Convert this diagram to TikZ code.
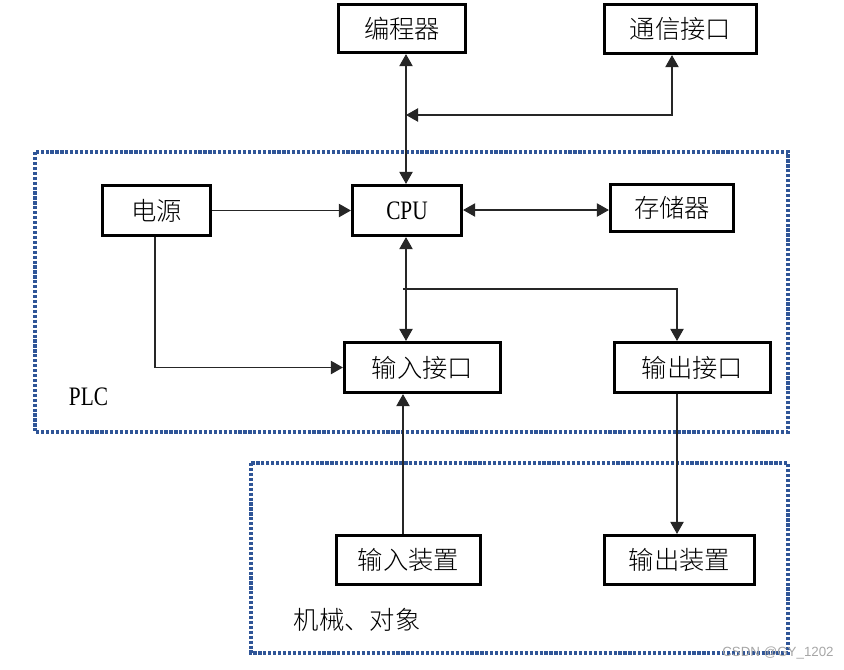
\documentclass[tikz,border=0pt]{standalone}
\usepackage{fontspec}
\newfontfamily\cjk{Noto Sans CJK SC Light}
\newfontfamily\latn[FakeStretch=0.8]{Liberation Serif}
\newfontfamily\wmfont{Liberation Sans}
\usetikzlibrary{arrows.meta}
\definecolor{dotblue}{HTML}{2F5597}
\tikzset{
  box/.style={draw=black, line width=2.4pt, inner sep=0pt, fill=white,
    font=\cjk\fontsize{19}{22}\selectfont},
  conn/.style={line width=0.8pt, draw=black!85},
  dotbox/.style={draw=dotblue, line width=2.5pt, dash pattern=on 2.4pt off 1.3pt},
  >={Triangle[length=9pt,width=10pt]}
}
\begin{document}
\begin{tikzpicture}[x=0.75pt,y=-0.75pt]
\useasboundingbox (0,0) rectangle (844,669);
% dotted groups
\draw[dotbox] (35,152) rectangle (788,432);
\draw[dotbox] (251,463) rectangle (788,653);
% boxes
\node[box, minimum width=95.25pt, minimum height=36pt] (prog) at (402,28.5) {编程器};
\node[box, minimum width=114pt, minimum height=36.75pt] (comm) at (680.5,29) {通信接口};
\node[box, minimum width=81pt, minimum height=37.5pt] (power) at (156.5,210.5) {电源};
\node[box, minimum width=81.75pt, minimum height=37.5pt, font=\latn\fontsize{20}{22}\selectfont] (cpu) at (407,210.5) {CPU};
\node[box, minimum width=92.25pt, minimum height=35.25pt] (mem) at (672,208) {存储器};
\node[box, minimum width=117pt, minimum height=37.5pt] (inif) at (422.5,367.5) {输入接口};
\node[box, minimum width=117pt, minimum height=37.5pt] (outif) at (692.5,367.5) {输出接口};
\node[box, minimum width=108pt, minimum height=36.75pt] (indev) at (408.5,560) {输入装置};
\node[box, minimum width=112.5pt, minimum height=36.75pt] (outdev) at (679.5,560) {输出装置};
% labels
\node[font=\latn\fontsize{20}{22}\selectfont] (plc) at (88.5,397) {PLC};
\node[font=\cjk\fontsize{19}{22}\selectfont] (mech) at (357,620) {机械、对象};
\node[font=\wmfont\fontsize{10}{12}\selectfont, text=black!35] (wm) at (778,653) {CSDN @GY\_1202};
% junctions
\coordinate (jp) at (406,115);
\coordinate (jc) at (672,115);
\coordinate (jb) at (403,289);
\coordinate (jo) at (677,289);
\coordinate (pc) at (155,367.5);
% connectors
\draw[conn,<->] (jp |- prog.south) -- (jp |- cpu.north);
\draw[conn,<->] (jp) -- (jc) -- (jc |- comm.south);
\draw[conn,->] (power.east |- cpu.west) -- (cpu.west);
\draw[conn,<->] (cpu.east |- 0,210) -- (mem.west |- 0,210);
\draw[conn,<->] (jp |- cpu.south) -- (jp |- inif.north);
\draw[conn,->] (jb) -- (jo) -- (jo |- outif.north);
\draw[conn,->] (pc |- power.south) -- (pc) -- (inif.west);
\draw[conn,->] (jb |- indev.north) -- (jb |- inif.south);
\draw[conn,->] (jo |- outif.south) -- (jo |- outdev.north);
\end{tikzpicture}
\end{document}
